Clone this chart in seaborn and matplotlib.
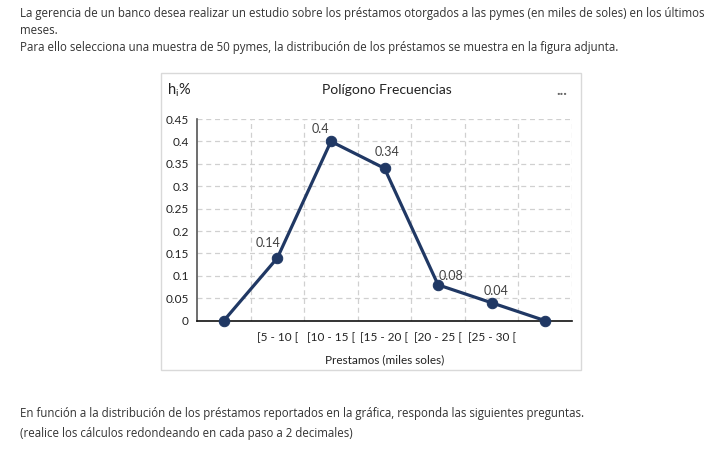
import matplotlib
matplotlib.use("Agg")
import matplotlib.pyplot as plt
import seaborn as sns
import numpy as np
from matplotlib.patches import Rectangle

categories = ["", "[5 - 10 [", "[10 - 15 [", "[15 - 20 [", "[20 - 25 [", "[25 - 30 [", ""]
values = [0, 0.14, 0.4, 0.34, 0.08, 0.04, 0]
yticks = [0, 0.05, 0.1, 0.15, 0.2, 0.25, 0.3, 0.35, 0.4, 0.45]
ytick_labels = ["0", "0.05", "0.1", "0.15", "0.2", "0.25", "0.3", "0.35", "0.4", "0.45"]
point_labels = ["", "0.14", "0.4", "0.34", "0.08", "0.04", ""]

sns.set_theme(style="white")
plt.rcParams["font.family"] = ["Lato", "DejaVu Sans"]

W, H = 719, 450
fig = plt.figure(figsize=(W / 100, H / 100), dpi=100)
fig.patch.set_facecolor("white")

def fx(px):
    return px / W

def fy(py):
    return 1 - py / H

# paragraph texts
para = dict(family=["Open Sans", "DejaVu Sans"], fontsize=8.3, color="#333333", va="center", ha="left")
fig.text(fx(20), fy(13), "La gerencia de un banco desea realizar un estudio sobre los préstamos otorgados a las pymes (en miles de soles) en los últimos", **para)
fig.text(fx(20), fy(30), "meses.", **para)
fig.text(fx(20), fy(47), "Para ello selecciona una muestra de 50 pymes, la distribución de los préstamos se muestra en la figura adjunta.", **para)
fig.text(fx(20), fy(414), "En función a la distribución de los préstamos reportados en la gráfica, responda las siguientes preguntas.", **para)
fig.text(fx(20), fy(434), "(realice los cálculos redondeando en cada paso a 2 decimales)", **para)

# chart frame
fig.patches.append(Rectangle((fx(161), fy(370)), fx(581) - fx(161), fy(73) - fy(370),
                             transform=fig.transFigure, fill=False, edgecolor="#D9D9D9", lw=1))

ax = fig.add_axes([fx(197), fy(320.7), fx(572) - fx(197), fy(119) - fy(320.7)])
x = np.arange(len(categories))
sns.lineplot(x=x, y=values, ax=ax, color="#203864", lw=2.3, marker="o", markersize=7.5,
             markeredgecolor="#203864", clip_on=False, zorder=5)

ax.set_xlim(-0.5, len(categories) - 0.5)
ax.set_ylim(0, 0.45)
ax.set_yticks(yticks)
ax.set_yticklabels(ytick_labels)
ax.set_xticks(x)
ax.set_xticklabels(categories)
ax.tick_params(axis="both", length=0, labelsize=8.5, colors="#222222", pad=6)
ax.tick_params(axis="x", pad=8)

# gridlines
for yv in yticks[1:]:
    ax.axhline(yv, color="#D0D0D0", lw=0.9, ls=(0, (4, 3)), zorder=0)
for xv in np.arange(0.5, len(categories), 1.0):
    ax.axvline(xv, color="#D0D0D0", lw=0.9, ls=(0, (4, 3)), zorder=0)

for s in ["top", "right"]:
    ax.spines[s].set_visible(False)
ax.spines["left"].set_color("#555555")
ax.spines["left"].set_linewidth(1.2)
ax.spines["bottom"].set_color("#111111")
ax.spines["bottom"].set_linewidth(1.2)

# data labels
offsets = [(0, 0), (-9, 9), (-10, 6), (3, 10), (13, 3), (4, 6), (0, 0)]
for xi, yi, lab, off in zip(x, values, point_labels, offsets):
    if lab:
        ax.annotate(lab, (xi, yi), xytext=off, textcoords="offset pixels",
                    ha="center", va="bottom", fontsize=9, color="#404040")

ax.set_xlabel("Prestamos (miles soles)", fontsize=8.5, color="#222222", labelpad=8)

fig.text(fx(387), fy(90), "Polígono Frecuencias", ha="center", va="center", fontsize=10, color="#222222")
fig.text(fx(167), fy(90), r"h$_\mathregular{i}$%", ha="left", va="center", fontsize=10.5, color="#222222")
fig.text(fx(562), fy(91), "...", ha="center", va="center", fontsize=11, color="#666666", fontweight="bold")

fig.savefig("out.png", dpi=100)
